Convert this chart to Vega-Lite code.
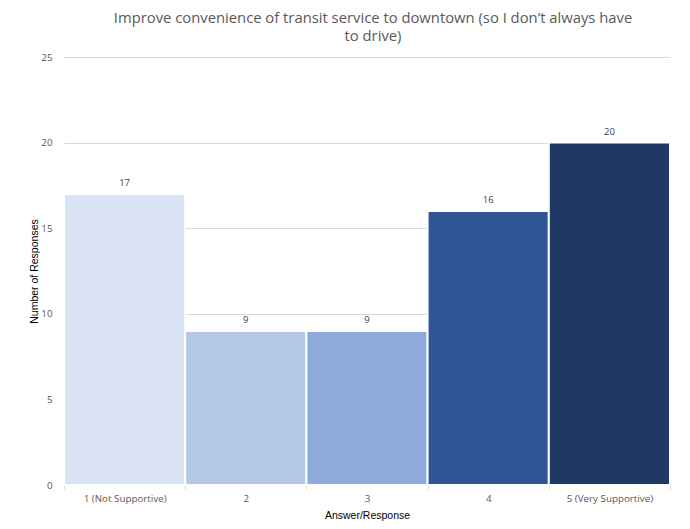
{
  "$schema": "https://vega.github.io/schema/vega-lite/v6.json",
  "width": 606,
  "height": 428,
  "autosize": {"type": "none"},
  "padding": {"left": 64, "top": 57, "right": 20, "bottom": 44},
  "background": "white",
  "config": {"view": {"stroke": null}},
  "title": {
    "text": ["Improve convenience of transit service to downtown (so I don’t always have", "to drive)"],
    "font": "Open Sans",
    "fontSize": 14.8,
    "fontWeight": "normal",
    "color": "#595959",
    "anchor": "middle",
    "dx": 6,
    "offset": 8,
    "lineHeight": 18
  },
  "data": {
    "values": [
      {"answer": "1 (Not Supportive)", "count": 17, "color": "#DAE3F3"},
      {"answer": "2", "count": 9, "color": "#B4C7E7"},
      {"answer": "3", "count": 9, "color": "#8FAADC"},
      {"answer": "4", "count": 16, "color": "#2F5597"},
      {"answer": "5 (Very Supportive)", "count": 20, "color": "#203864"}
    ]
  },
  "encoding": {
    "x": {
      "field": "answer",
      "type": "nominal",
      "sort": null,
      "scale": {"paddingInner": 0, "paddingOuter": 0},
      "axis": {
        "title": "Answer/Response",
        "titleFont": "Liberation Sans",
        "titleFontSize": 10.5,
        "titleFontWeight": "normal",
        "titleColor": "#000000",
        "titlePadding": 8,
        "labelAngle": 0,
        "labelFont": "Open Sans",
        "labelFontSize": 9.8,
        "labelColor": "#595959",
        "labelPadding": 4,
        "tickBand": "extent",
        "tickColor": "#D9D9D9",
        "tickSize": 4,
        "domainColor": "#D9D9D9"
      }
    },
    "y": {
      "field": "count",
      "type": "quantitative",
      "scale": {"domain": [0, 25]},
      "axis": {
        "title": "Number of Responses",
        "titleFont": "Liberation Sans",
        "titleFontSize": 10.5,
        "titleFontWeight": "normal",
        "titleColor": "#000000",
        "titlePadding": 1,
        "values": [0, 5, 10, 15, 20, 25],
        "labelFont": "Open Sans",
        "labelFontSize": 9.8,
        "labelColor": "#595959",
        "labelPadding": 12,
        "ticks": false,
        "domain": false,
        "gridColor": "#D9D9D9",
        "gridWidth": 1
      }
    }
  },
  "layer": [
    {
      "mark": {"type": "bar", "stroke": "white", "strokeWidth": 2},
      "encoding": {
        "color": {"field": "color", "type": "nominal", "scale": null}
      }
    },
    {
      "mark": {"type": "text", "dy": -11, "font": "Open Sans", "fontSize": 9.5, "color": "#404040"},
      "encoding": {"text": {"field": "count", "type": "quantitative"}}
    }
  ]
}
